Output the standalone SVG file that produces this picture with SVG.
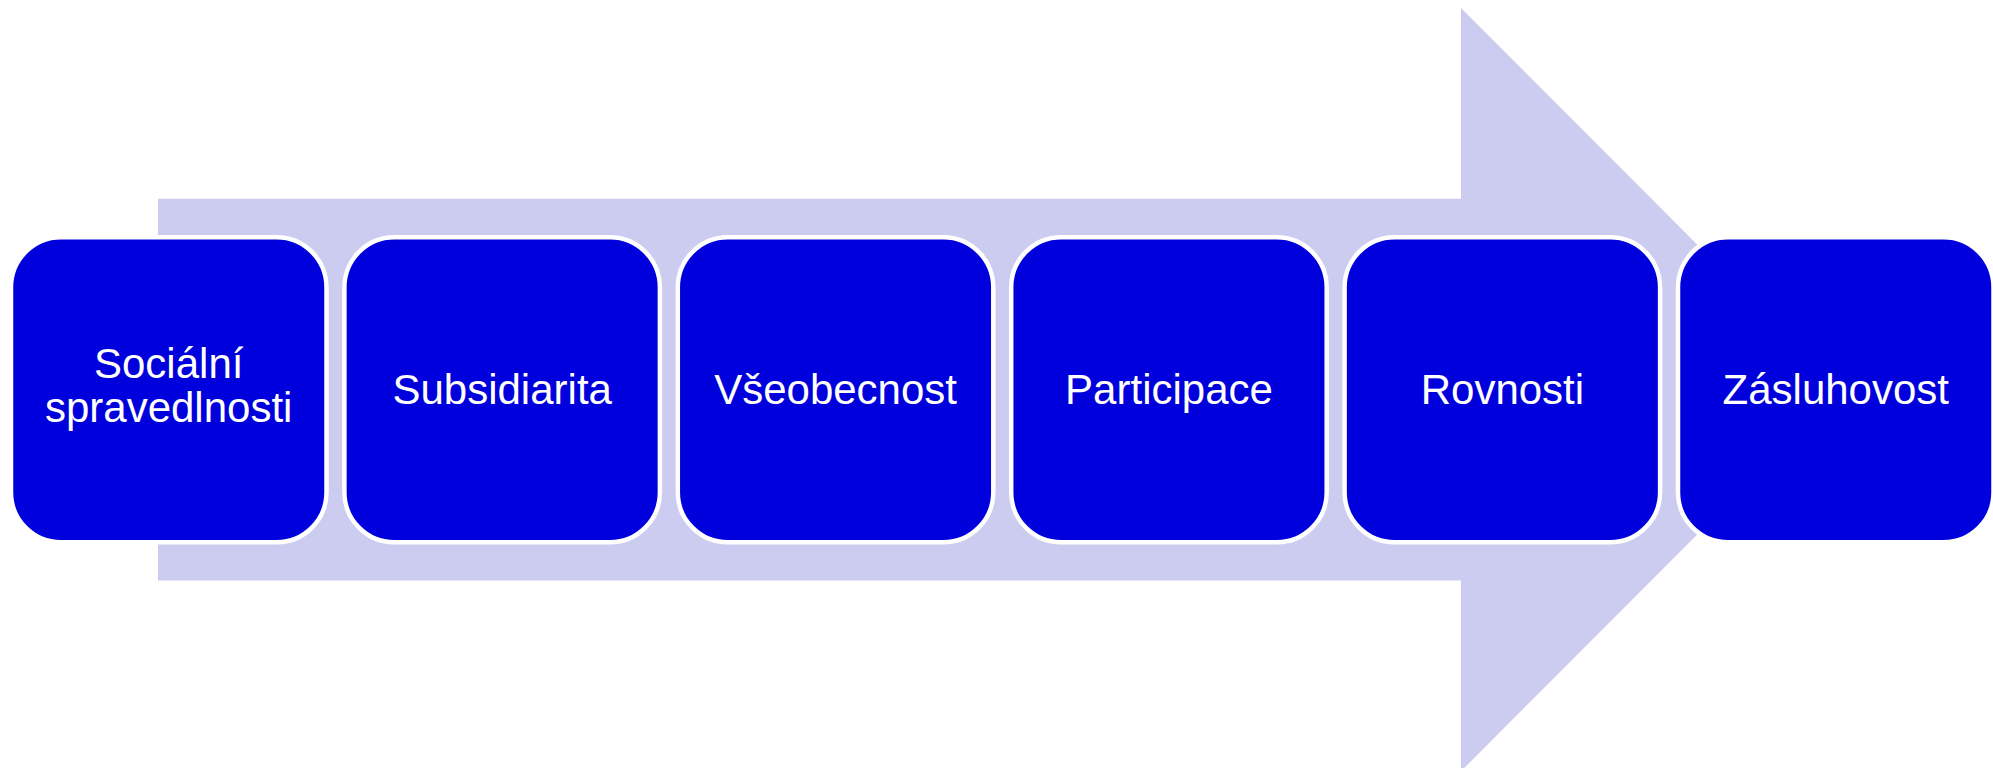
<svg xmlns="http://www.w3.org/2000/svg" width="1993" height="768" viewBox="0 0 1993 768">
<style>
.box{fill:#0000DC;stroke:#FFFFFF;stroke-width:4.5}
.lbl{font-family:"Liberation Sans",Arial,sans-serif;font-size:42px;fill:#FFFFFF;text-anchor:middle}
</style>
<rect width="1993" height="768" fill="#FFFFFF"/>
<g id="arrow">
<polygon points="158,198.7 1461,198.7 1461,8 1842,389.6 1461,771.2 1461,580.5 158,580.5" fill="#CCCCF0"/>
</g>
<g id="connectors"></g>
<g id="n1">
<rect class="box" x="11" y="237.3" width="315.5" height="305" rx="50" ry="50"/>
<text class="lbl" x="168.7" y="378">Sociální</text>
<text class="lbl" x="168.7" y="422">spravedlnosti</text>
</g>
<g id="n2">
<rect class="box" x="344.4" y="237.3" width="315.5" height="305" rx="50" ry="50"/>
<text class="lbl" x="502.2" y="403.5">Subsidiarita</text>
</g>
<g id="n3">
<rect class="box" x="677.8" y="237.3" width="315.5" height="305" rx="50" ry="50"/>
<text class="lbl" x="835.6" y="403.5">Všeobecnost</text>
</g>
<g id="n4">
<rect class="box" x="1011.2" y="237.3" width="315.5" height="305" rx="50" ry="50"/>
<text class="lbl" x="1169" y="403.5">Participace</text>
</g>
<g id="n5">
<rect class="box" x="1344.6" y="237.3" width="315.5" height="305" rx="50" ry="50"/>
<text class="lbl" x="1502.4" y="403.5">Rovnosti</text>
</g>
<g id="n6">
<rect class="box" x="1678" y="237.3" width="315.5" height="305" rx="50" ry="50"/>
<text class="lbl" x="1835.8" y="403.5">Zásluhovost</text>
</g>
</svg>
